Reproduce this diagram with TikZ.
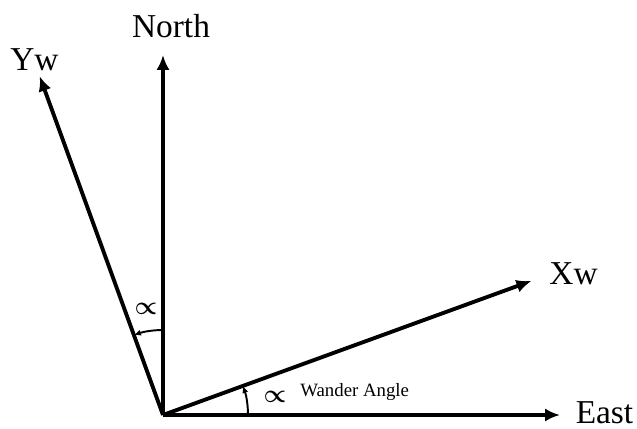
\documentclass[tikz,border=0pt]{standalone}
\usepackage{amsmath, amssymb, bm}
\usepackage{fontspec}
\setmainfont{Liberation Serif}
\usetikzlibrary{arrows.meta}

\begin{document}
\begin{tikzpicture}[
    axis/.style={line width=2.2pt, -{Latex[length=8.5pt, width=7.5pt]}},
    anglearc/.style={line width=1.1pt, -{Latex[length=4pt, width=3.5pt]}},
    biglabel/.style={font=\fontsize{19}{22}\selectfont, inner sep=0pt},
    smalllabel/.style={font=\fontsize{10.7}{13}\selectfont, inner sep=0pt},
    alpha/.style={font=\fontsize{15}{17}\selectfont, inner sep=0pt}
]
    \useasboundingbox (-3.26, -0.28) rectangle (9.48, 8.30);
    \coordinate (O) at (0.00, 0.00);
    \coordinate (northtip) at (0.00, 7.20);
    \coordinate (easttip) at (7.94, 0.00);
    \coordinate (xwtip) at (20:7.84);
    \coordinate (ywtip) at (110:7.21);

    \node[biglabel] (north) at (0.16, 7.77) {North};
    \node[biglabel] (east) at (8.83, 0.04) {East};
    \node[biglabel] (xw) at (8.21, 2.82) {Xw};
    \node[biglabel] (yw) at (-2.57, 7.10) {Yw};
    \node[alpha] (alphaw) at (2.24, 0.36) {$\bm{\propto}$};
    \node[alpha] (alphan) at (-0.34, 2.12) {$\bm{\propto}$};
    \node[smalllabel, anchor=base west] (wander) at (2.74, 0.36) {Wander Angle};

    \draw[axis] (O) -- (northtip);
    \draw[axis] (O) -- (easttip);
    \draw[axis] (O) -- (xwtip);
    \draw[axis] (O) -- (ywtip);
    \draw[anglearc] ([shift={(0:1.7)}]O) arc[start angle=0, end angle=20, radius=1.7];
    \draw[anglearc] ([shift={(90:1.7)}]O) arc[start angle=90, end angle=110, radius=1.7];
\end{tikzpicture}
\end{document}
